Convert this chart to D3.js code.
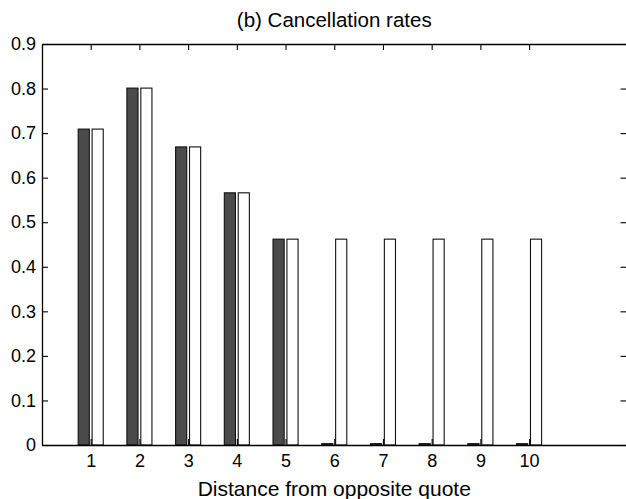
<!DOCTYPE html>
<html>
<head>
<meta charset="utf-8">
<script src="https://cdn.jsdelivr.net/npm/d3@7"></script>
<style>
  body { margin: 0; background: #fff; }
  svg text { font-family: "Liberation Sans", Arial, Helvetica, sans-serif; fill: #000; }
</style>
</head>
<body>
<svg id="chart" width="626" height="499"></svg>
<script>
// distances from the opposite quote
var distances = [1, 2, 3, 4, 5, 6, 7, 8, 9, 10];
// dark bars
var darkRates = [0.709, 0.801, 0.669, 0.566, 0.462, 0.003, 0.003, 0.003, 0.003, 0.003];
// white bars
var whiteRates = [0.709, 0.801, 0.669, 0.566, 0.462, 0.462, 0.462, 0.462, 0.462, 0.462];
var yTicks = [0, 0.1, 0.2, 0.3, 0.4, 0.5, 0.6, 0.7, 0.8, 0.9];
var yTickLabels = ['0', '0.1', '0.2', '0.3', '0.4', '0.5', '0.6', '0.7', '0.8', '0.9'];

var margin = { top: 44, right: -0.5, bottom: 54, left: 42 },
    W = 626, H = 499,
    width = W - margin.left - margin.right,
    height = H - margin.top - margin.bottom,
    tickLen = 6,
    // matlab style grouped bars: 2 series
    groupWidth = 2 / 3.5,
    barWidth = groupWidth / 2 * 0.8,
    offsets = [-groupWidth / 4, groupWidth / 4];

var svg = d3.select('#chart');
var g = svg.append('g')
    .attr('transform', 'translate(' + margin.left + ',' + margin.top + ')');

var x = d3.scaleLinear().domain([0, 12]).range([0, width]);
var y = d3.scaleLinear().domain([0, 0.9]).range([height, 0]);

var series = [
    { values: darkRates, fill: '#4b4b4b' },
    { values: whiteRates, fill: '#ffffff' }
];

series.forEach(function(s, si) {
    g.selectAll('rect.s' + si)
        .data(distances)
        .enter().append('rect')
        .attr('class', 's' + si)
        .attr('x', function(d) { return x(d + offsets[si] - barWidth / 2); })
        .attr('width', function() { return x(barWidth) - x(0); })
        .attr('y', function(d, i) { return y(s.values[i]); })
        .attr('height', function(d, i) { return y(0) - y(s.values[i]); })
        .style('fill', s.fill)
        .style('stroke', '#111')
        .style('stroke-width', 1.1);
});

// axes, ticks pointing inward like matlab
var xAxisB = d3.axisBottom(x).tickValues(distances).tickSizeInner(-tickLen).tickSizeOuter(0).tickPadding(9);
var xAxisT = d3.axisTop(x).tickValues(distances).tickSizeInner(-tickLen).tickSizeOuter(0).tickFormat('');
var yAxisL = d3.axisLeft(y).tickValues(yTicks).tickSizeInner(-tickLen).tickSizeOuter(0).tickPadding(6)
    .tickFormat(function(d, i) { return yTickLabels[i]; });
var yAxisR = d3.axisRight(y).tickValues(yTicks).tickSizeInner(-tickLen).tickSizeOuter(0).tickFormat('');

g.append('g').attr('class', 'x axis').attr('transform', 'translate(0,' + height + ')').call(xAxisB);
g.append('g').attr('class', 'x axis').call(xAxisT);
g.append('g').attr('class', 'y axis').call(yAxisL);
g.append('g').attr('class', 'y axis').attr('transform', 'translate(' + width + ',0)').call(yAxisR);

g.selectAll('.axis path').style('stroke', '#000').style('stroke-width', 1.3);
g.selectAll('.axis line').style('stroke', '#000').style('stroke-width', 1.1);
g.selectAll('.axis text').style('font-size', '18px').style('font-family', '"Liberation Sans", Arial, sans-serif');

svg.append('text')
    .attr('x', margin.left + width / 2)
    .attr('y', 27)
    .attr('text-anchor', 'middle')
    .style('font-size', '20.5px')
    .text('(b) Cancellation rates');

svg.append('text')
    .attr('x', margin.left + width / 2)
    .attr('y', 496)
    .attr('text-anchor', 'middle')
    .style('font-size', '21px')
    .text('Distance from opposite quote');
</script>
</body>
</html>
